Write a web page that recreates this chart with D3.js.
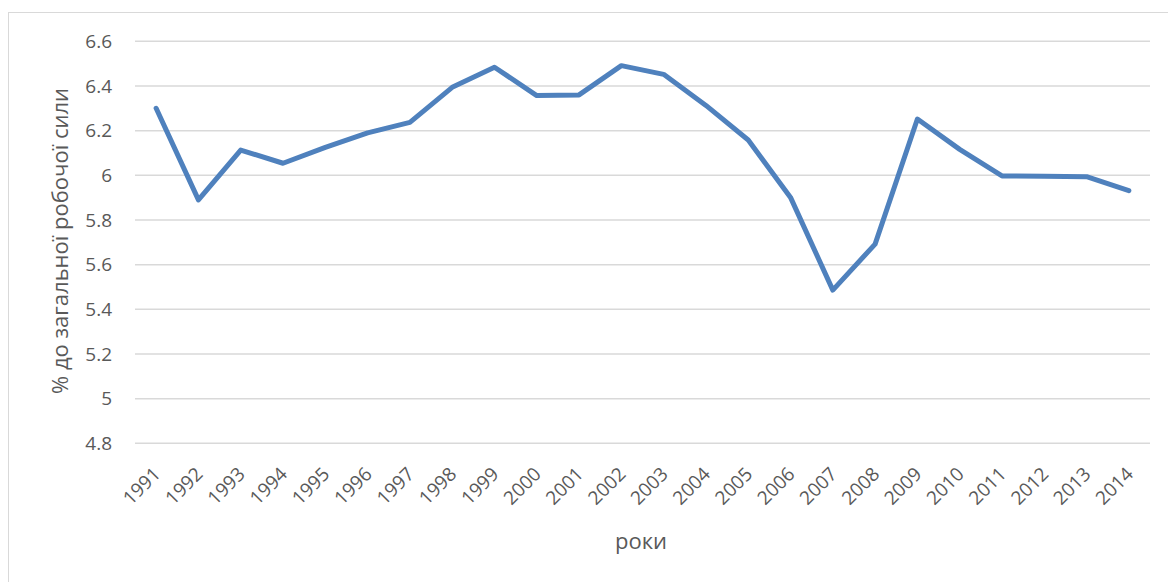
<!DOCTYPE html>
<meta charset="utf-8">
<style>
body { margin: 0; background: #fff; }
svg { display: block; }
svg text { font-family: "Open Sans", "Liberation Sans", sans-serif; }
.grid line { stroke: #d9d9d9; stroke-width: 1.5px; }
.tick text { fill: #595959; }
</style>
<body>
<script src="https://d3js.org/d3.v7.min.js"></script>
<script>
var years = ["1991","1992","1993","1994","1995","1996","1997","1998","1999","2000","2001","2002",
             "2003","2004","2005","2006","2007","2008","2009","2010","2011","2012","2013","2014"];
var values = [6.30, 5.89, 6.113, 6.054, 6.125, 6.19, 6.237, 6.394, 6.484, 6.357, 6.36, 6.491,
              6.452, 6.313, 6.158, 5.901, 5.486, 5.692, 6.252, 6.116, 5.997, 5.996, 5.994, 5.931];
var yTicks = [4.8, 5, 5.2, 5.4, 5.6, 5.8, 6, 6.2, 6.4, 6.6];

var width = 1168, height = 582;
var margin = {top: 41.3, right: 18, bottom: 138.7, left: 135};

var svg = d3.select("body").append("svg")
    .attr("width", width)
    .attr("height", height);

// chart frame (cut off at right and bottom like the source)
svg.append("rect")
    .attr("x", 8.5).attr("y", 12.5)
    .attr("width", 1170).attr("height", 600)
    .attr("fill", "none")
    .attr("stroke", "#d9d9d9")
    .attr("stroke-width", 1);

var x = d3.scalePoint()
    .domain(years)
    .range([margin.left, width - margin.right])
    .padding(0.5);

var y = d3.scaleLinear()
    .domain([4.8, 6.6])
    .range([height - margin.bottom, margin.top]);

// gridlines
svg.append("g")
    .attr("class", "grid")
    .selectAll("line")
    .data(yTicks)
    .enter().append("line")
      .attr("x1", margin.left)
      .attr("x2", width - margin.right)
      .attr("y1", function(d) { return y(d); })
      .attr("y2", function(d) { return y(d); });

// y axis labels
var yAxis = svg.append("g")
    .attr("transform", "translate(" + margin.left + ",0)")
    .call(d3.axisLeft(y).tickValues(yTicks).tickSize(0).tickPadding(23)
      .tickFormat(function(d) { return d3.format("")(+d.toFixed(1)); }));
yAxis.attr("font-family", null);
yAxis.select(".domain").remove();
yAxis.selectAll("text").style("font-size", "19px");

// x axis labels
var xAxis = svg.append("g")
    .attr("transform", "translate(0," + (height - margin.bottom) + ")")
    .call(d3.axisBottom(x).tickSize(0));
xAxis.attr("font-family", null);
xAxis.select(".domain").remove();
xAxis.selectAll("text")
    .style("font-size", "19px")
    .attr("text-anchor", "end")
    .attr("dy", null)
    .attr("y", 0)
    .attr("transform", "translate(5,32) rotate(-45)");

// line
var line = d3.line()
    .x(function(d, i) { return x(years[i]); })
    .y(function(d) { return y(d); });

svg.append("path")
    .datum(values)
    .attr("d", line)
    .attr("fill", "none")
    .attr("stroke", "#4f81bd")
    .attr("stroke-width", 5)
    .attr("stroke-linejoin", "round")
    .attr("stroke-linecap", "round");

// axis titles
svg.append("text")
    .attr("x", 641)
    .attr("y", 549)
    .attr("text-anchor", "middle")
    .style("font-size", "22px")
    .style("fill", "#595959")
    .text("роки");

svg.append("text")
    .attr("transform", "translate(68,241) rotate(-90)")
    .attr("text-anchor", "middle")
    .style("font-size", "22px")
    .style("fill", "#595959")
    .text("% до загальної робочої сили");
</script>
</body>
